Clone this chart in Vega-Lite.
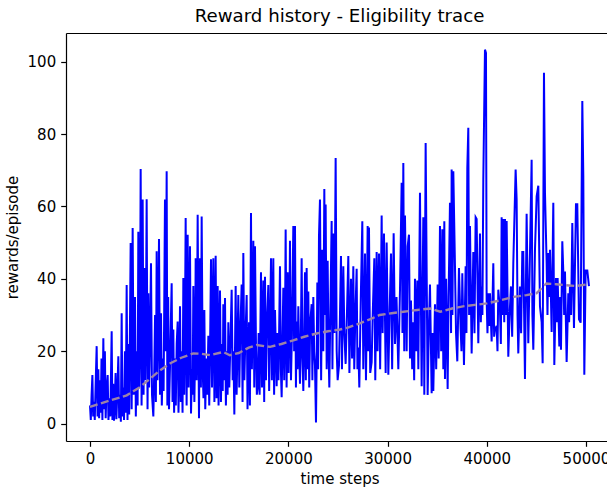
{
"$schema": "https://vega.github.io/schema/vega-lite/v6.json",
"width": 541,
"height": 408,
"autosize": {"type": "none"},
"padding": {"left": 66, "top": 33, "right": 0, "bottom": 48},
"background": "white",
"title": {"text": "Reward history - Eligibility trace", "font": "DejaVu Sans", "fontSize": 18.2, "fontWeight": "normal", "color": "#000000", "anchor": "middle", "frame": "group", "offset": 7, "dx": 3},
"config": {
  "view": {"stroke": null},
  "font": "DejaVu Sans",
  "axis": {"grid": false, "domainColor": "#000000", "domainWidth": 1.2, "tickColor": "#000000", "tickWidth": 1.2, "tickSize": 5.3, "labelColor": "#000000", "labelFont": "DejaVu Sans", "labelFontSize": 15, "labelPadding": 5, "titleColor": "#000000", "titleFont": "DejaVu Sans", "titleFontSize": 15, "titleFontWeight": "normal"}
},
"datasets": {
"raw": [
{"t":0,"r":5},{"t":80,"r":1},{"t":160,"r":8},{"t":240,"r":13.4},{"t":320,"r":2},{"t":400,"r":6},{"t":480,"r":1},{"t":560,"r":10},{"t":672,"r":21.4},{"t":760,"r":2},{"t":840,"r":15},{"t":920,"r":1.5},{"t":1000,"r":12},{"t":1080,"r":3},{"t":1160,"r":18},{"t":1250,"r":1},{"t":1344,"r":23.6},{"t":1420,"r":4},{"t":1500,"r":20},{"t":1580,"r":1.5},{"t":1660,"r":9},{"t":1781,"r":13.4},{"t":1860,"r":1},{"t":1950,"r":7},{"t":2050,"r":2},{"t":2184,"r":25.5},{"t":2260,"r":1},{"t":2340,"r":11},{"t":2420,"r":0.8},{"t":2500,"r":6},{"t":2580,"r":14},{"t":2660,"r":1.2},{"t":2760,"r":9},{"t":2856,"r":18.6},{"t":2940,"r":1.5},{"t":3020,"r":8},{"t":3110,"r":0.5},{"t":3192,"r":30.5},{"t":3270,"r":2},{"t":3350,"r":10},{"t":3430,"r":1},{"t":3520,"r":20},{"t":3600,"r":3},{"t":3696,"r":38.3},{"t":3780,"r":1},{"t":3860,"r":22},{"t":3950,"r":2.5},{"t":4099,"r":49.9},{"t":4200,"r":4},{"t":4300,"r":54},{"t":4400,"r":8},{"t":4536,"r":35},{"t":4620,"r":2},{"t":4720,"r":20},{"t":4800,"r":5},{"t":4872,"r":53},{"t":4950,"r":10},{"t":5040,"r":25},{"t":5107,"r":70.3},{"t":5200,"r":5},{"t":5309,"r":61.9},{"t":5400,"r":8},{"t":5477,"r":43},{"t":5560,"r":12},{"t":5640,"r":30},{"t":5712,"r":62},{"t":5800,"r":4},{"t":5880,"r":36},{"t":5960,"r":10},{"t":6060,"r":25},{"t":6149,"r":44.3},{"t":6250,"r":8},{"t":6384,"r":2},{"t":6480,"r":15},{"t":6560,"r":30},{"t":6640,"r":6},{"t":6720,"r":47.6},{"t":6800,"r":12},{"t":6880,"r":25},{"t":6955,"r":51},{"t":7060,"r":8},{"t":7157,"r":30.5},{"t":7240,"r":5},{"t":7330,"r":18},{"t":7420,"r":9},{"t":7560,"r":61.9},{"t":7640,"r":20},{"t":7728,"r":69.7},{"t":7800,"r":5},{"t":7880,"r":35},{"t":7963,"r":4},{"t":8060,"r":15},{"t":8150,"r":28},{"t":8232,"r":38.8},{"t":8320,"r":6},{"t":8400,"r":26},{"t":8480,"r":3},{"t":8560,"r":18},{"t":8650,"r":5},{"t":8740,"r":22},{"t":8838,"r":28.2},{"t":8920,"r":3},{"t":9000,"r":15},{"t":9073,"r":32.4},{"t":9160,"r":6},{"t":9250,"r":20},{"t":9330,"r":3},{"t":9409,"r":40.2},{"t":9500,"r":8},{"t":9580,"r":30},{"t":9644,"r":56.8},{"t":9740,"r":5},{"t":9846,"r":52.2},{"t":9940,"r":10},{"t":10000,"r":25},{"t":10081,"r":49},{"t":10182,"r":2.8},{"t":10280,"r":15},{"t":10350,"r":8},{"t":10417,"r":38},{"t":10520,"r":6},{"t":10600,"r":20},{"t":10652,"r":45.7},{"t":10750,"r":12},{"t":10854,"r":57.7},{"t":10940,"r":20},{"t":10988,"r":1.5},{"t":11089,"r":45.7},{"t":11180,"r":10},{"t":11257,"r":57.2},{"t":11360,"r":15},{"t":11440,"r":7},{"t":11526,"r":31.4},{"t":11620,"r":4},{"t":11720,"r":18},{"t":11820,"r":8},{"t":11929,"r":24.3},{"t":12020,"r":5},{"t":12100,"r":20},{"t":12198,"r":45.4},{"t":12300,"r":10},{"t":12433,"r":45.7},{"t":12540,"r":6},{"t":12600,"r":25},{"t":12668,"r":46.4},{"t":12760,"r":7},{"t":12870,"r":38},{"t":12960,"r":5},{"t":13020,"r":20},{"t":13105,"r":36.8},{"t":13200,"r":6},{"t":13300,"r":22},{"t":13380,"r":9},{"t":13441,"r":33},{"t":13520,"r":12},{"t":13609,"r":34.7},{"t":13700,"r":5},{"t":13800,"r":20},{"t":13870,"r":8},{"t":13945,"r":28},{"t":14040,"r":10},{"t":14150,"r":22},{"t":14281,"r":37},{"t":14380,"r":12},{"t":14460,"r":20},{"t":14550,"r":2.5},{"t":14684,"r":38},{"t":14780,"r":8},{"t":14860,"r":20},{"t":14953,"r":35.5},{"t":15050,"r":10},{"t":15150,"r":25},{"t":15289,"r":38.4},{"t":15380,"r":6},{"t":15457,"r":47.1},{"t":15560,"r":12},{"t":15650,"r":22},{"t":15793,"r":35.5},{"t":15880,"r":4},{"t":15950,"r":18},{"t":16028,"r":28},{"t":16120,"r":5},{"t":16230,"r":58.2},{"t":16320,"r":15},{"t":16400,"r":30},{"t":16465,"r":50.5},{"t":16560,"r":10},{"t":16633,"r":49},{"t":16740,"r":20},{"t":16820,"r":8},{"t":16902,"r":10},{"t":17000,"r":25},{"t":17100,"r":8},{"t":17238,"r":41.8},{"t":17340,"r":10},{"t":17400,"r":25},{"t":17473,"r":39.5},{"t":17560,"r":6},{"t":17641,"r":40.6},{"t":17740,"r":12},{"t":17840,"r":28},{"t":17977,"r":38.3},{"t":18060,"r":9},{"t":18150,"r":25},{"t":18246,"r":45.7},{"t":18340,"r":12},{"t":18400,"r":30},{"t":18481,"r":45.7},{"t":18560,"r":8},{"t":18649,"r":31.4},{"t":18740,"r":20},{"t":18817,"r":10.3},{"t":18900,"r":25},{"t":19000,"r":12},{"t":19153,"r":43.5},{"t":19240,"r":15},{"t":19321,"r":7.3},{"t":19400,"r":22},{"t":19489,"r":37.5},{"t":19580,"r":12},{"t":19660,"r":28},{"t":19724,"r":53.6},{"t":19820,"r":10},{"t":19926,"r":41.8},{"t":20020,"r":14},{"t":20100,"r":30},{"t":20161,"r":50.5},{"t":20260,"r":12},{"t":20360,"r":25},{"t":20497,"r":54.6},{"t":20580,"r":20},{"t":20665,"r":54.6},{"t":20760,"r":10},{"t":20833,"r":28.2},{"t":20920,"r":15},{"t":21001,"r":32.4},{"t":21090,"r":20},{"t":21169,"r":11},{"t":21260,"r":25},{"t":21337,"r":45.7},{"t":21420,"r":18},{"t":21505,"r":9},{"t":21600,"r":25},{"t":21673,"r":41.8},{"t":21760,"r":12},{"t":21841,"r":43},{"t":21930,"r":15},{"t":22009,"r":36.5},{"t":22100,"r":10},{"t":22200,"r":28},{"t":22345,"r":33},{"t":22420,"r":12},{"t":22513,"r":35},{"t":22600,"r":20},{"t":22681,"r":16},{"t":22781,"r":0.3},{"t":22860,"r":20},{"t":22916,"r":39},{"t":23000,"r":15},{"t":23085,"r":51.9},{"t":23185,"r":61.9},{"t":23300,"r":12},{"t":23420,"r":48},{"t":23520,"r":20},{"t":23622,"r":64.8},{"t":23700,"r":30},{"t":23756,"r":60.5},{"t":23860,"r":15},{"t":23958,"r":45},{"t":24050,"r":20},{"t":24126,"r":10},{"t":24250,"r":35},{"t":24361,"r":56},{"t":24440,"r":15},{"t":24529,"r":52.5},{"t":24640,"r":25},{"t":24764,"r":73.4},{"t":24870,"r":20},{"t":24966,"r":12},{"t":25100,"r":16},{"t":25200,"r":30},{"t":25302,"r":46.3},{"t":25400,"r":15},{"t":25537,"r":43.5},{"t":25640,"r":25},{"t":25772,"r":16.5},{"t":25900,"r":30},{"t":26041,"r":46.3},{"t":26150,"r":14},{"t":26310,"r":40},{"t":26420,"r":18},{"t":26545,"r":43.5},{"t":26640,"r":15},{"t":26750,"r":30},{"t":26882,"r":42.8},{"t":26960,"r":15},{"t":27050,"r":21},{"t":27150,"r":10},{"t":27300,"r":35},{"t":27453,"r":55.9},{"t":27550,"r":15},{"t":27640,"r":30},{"t":27722,"r":47},{"t":27820,"r":12},{"t":27900,"r":30},{"t":27991,"r":54.6},{"t":28060,"r":20},{"t":28125,"r":54.2},{"t":28250,"r":14},{"t":28394,"r":17},{"t":28500,"r":30},{"t":28663,"r":45.7},{"t":28760,"r":12},{"t":28898,"r":47.4},{"t":28990,"r":20},{"t":29133,"r":47},{"t":29250,"r":15},{"t":29402,"r":57.5},{"t":29500,"r":25},{"t":29637,"r":52.5},{"t":29805,"r":14},{"t":29906,"r":50},{"t":30074,"r":13.5},{"t":30200,"r":30},{"t":30343,"r":47},{"t":30460,"r":15},{"t":30612,"r":52.6},{"t":30746,"r":22},{"t":30900,"r":35},{"t":31082,"r":15},{"t":31250,"r":36.8},{"t":31418,"r":66.5},{"t":31500,"r":25},{"t":31586,"r":72},{"t":31680,"r":20},{"t":31754,"r":57.5},{"t":31922,"r":20},{"t":32023,"r":49},{"t":32157,"r":52.2},{"t":32260,"r":18},{"t":32359,"r":34},{"t":32480,"r":15},{"t":32594,"r":28},{"t":32680,"r":12},{"t":32762,"r":40},{"t":32880,"r":20},{"t":32997,"r":39.5},{"t":33100,"r":15},{"t":33266,"r":63.8},{"t":33434,"r":10.3},{"t":33602,"r":57},{"t":33703,"r":8},{"t":33837,"r":77.5},{"t":34039,"r":7.9},{"t":34150,"r":25},{"t":34274,"r":38.4},{"t":34442,"r":8.4},{"t":34530,"r":25},{"t":34610,"r":9},{"t":34778,"r":33},{"t":34900,"r":15},{"t":35047,"r":38.4},{"t":35150,"r":18},{"t":35282,"r":54.6},{"t":35400,"r":20},{"t":35517,"r":53.7},{"t":35620,"r":15},{"t":35719,"r":55.9},{"t":35786,"r":12.3},{"t":35900,"r":40},{"t":36055,"r":9.6},{"t":36150,"r":35},{"t":36290,"r":61},{"t":36400,"r":25},{"t":36458,"r":70.2},{"t":36540,"r":30},{"t":36626,"r":69.7},{"t":36794,"r":43.5},{"t":36900,"r":25},{"t":37029,"r":17.2},{"t":37197,"r":43},{"t":37365,"r":26},{"t":37450,"r":20},{"t":37533,"r":41.5},{"t":37701,"r":16.2},{"t":37869,"r":43.5},{"t":37950,"r":25},{"t":38037,"r":70.6},{"t":38138,"r":81.7},{"t":38220,"r":30},{"t":38306,"r":54.6},{"t":38474,"r":19.4},{"t":38642,"r":47.4},{"t":38760,"r":25},{"t":38877,"r":57},{"t":38978,"r":56.5},{"t":39146,"r":22.2},{"t":39314,"r":52.5},{"t":39400,"r":28},{"t":39482,"r":37.9},{"t":39560,"r":30},{"t":39650,"r":67.4},{"t":39818,"r":103.3},{"t":39919,"r":102.4},{"t":39986,"r":34.2},{"t":40070,"r":25},{"t":40154,"r":36},{"t":40240,"r":27},{"t":40322,"r":36},{"t":40490,"r":22.7},{"t":40658,"r":44.3},{"t":40740,"r":24},{"t":40826,"r":26},{"t":40994,"r":27},{"t":41080,"r":20},{"t":41162,"r":37},{"t":41330,"r":31.3},{"t":41420,"r":22},{"t":41498,"r":57},{"t":41580,"r":30},{"t":41666,"r":56.5},{"t":41760,"r":28},{"t":41834,"r":56.5},{"t":41920,"r":30},{"t":42002,"r":56},{"t":42170,"r":18.5},{"t":42300,"r":30},{"t":42439,"r":37.9},{"t":42560,"r":24},{"t":42674,"r":44.3},{"t":42909,"r":70.2},{"t":43010,"r":62},{"t":43100,"r":30},{"t":43178,"r":19.4},{"t":43346,"r":37.9},{"t":43460,"r":25},{"t":43581,"r":47.4},{"t":43682,"r":47.4},{"t":43850,"r":12.3},{"t":44018,"r":58},{"t":44186,"r":22.2},{"t":44354,"r":46.9},{"t":44522,"r":72.9},{"t":44600,"r":30},{"t":44691,"r":20.4},{"t":44859,"r":48},{"t":45027,"r":62.8},{"t":45195,"r":65.7},{"t":45363,"r":32.4},{"t":45531,"r":28},{"t":45632,"r":16.7},{"t":45766,"r":96.9},{"t":45867,"r":63.8},{"t":46035,"r":44.3},{"t":46120,"r":30},{"t":46203,"r":47.1},{"t":46290,"r":35},{"t":46371,"r":48},{"t":46539,"r":25.3},{"t":46707,"r":61},{"t":46808,"r":16.2},{"t":46976,"r":40.2},{"t":47060,"r":28},{"t":47144,"r":40.2},{"t":47312,"r":21.3},{"t":47400,"r":35},{"t":47480,"r":20.4},{"t":47614,"r":50.4},{"t":47715,"r":42},{"t":47800,"r":30},{"t":47883,"r":42},{"t":48051,"r":17},{"t":48219,"r":36},{"t":48300,"r":28},{"t":48387,"r":37.9},{"t":48500,"r":30},{"t":48622,"r":55.4},{"t":48790,"r":26.4},{"t":48992,"r":60.6},{"t":49126,"r":60.6},{"t":49295,"r":28.8},{"t":49463,"r":27.9},{"t":49631,"r":89.1},{"t":49731,"r":68.5},{"t":49832,"r":13.5},{"t":49966,"r":42.3},{"t":50134,"r":42.3},{"t":50302,"r":38}
],
"avg": [
{"t":0,"r":4.6},{"t":1000,"r":5.5},{"t":2016,"r":6.4},{"t":3000,"r":7.2},{"t":3700,"r":7.8},{"t":4400,"r":9},{"t":5040,"r":10.1},{"t":6050,"r":12.4},{"t":7000,"r":14.6},{"t":8060,"r":16.6},{"t":9200,"r":18.2},{"t":10400,"r":19.4},{"t":11200,"r":19.3},{"t":12100,"r":18.9},{"t":13440,"r":19.8},{"t":14100,"r":18.9},{"t":15000,"r":19.5},{"t":16000,"r":21},{"t":16800,"r":21.7},{"t":18150,"r":21.2},{"t":19300,"r":22},{"t":20500,"r":23},{"t":21600,"r":24},{"t":22850,"r":24.9},{"t":24000,"r":25.5},{"t":25200,"r":26},{"t":26000,"r":26.5},{"t":27200,"r":27.7},{"t":28200,"r":28.8},{"t":29200,"r":30},{"t":30400,"r":30.5},{"t":31600,"r":30.9},{"t":33000,"r":31.4},{"t":34300,"r":31.8},{"t":35300,"r":30.9},{"t":36500,"r":31.8},{"t":37600,"r":32.4},{"t":38800,"r":32.8},{"t":40000,"r":33.2},{"t":41300,"r":34},{"t":42700,"r":35},{"t":44000,"r":35.5},{"t":45000,"r":36},{"t":46000,"r":38.7},{"t":47000,"r":38.5},{"t":47700,"r":38.3},{"t":49000,"r":38},{"t":50200,"r":38.5}
]
},
"layer": [
{
  "data": {"name": "raw"},
  "mark": {"type": "line", "color": "#0000ff", "strokeWidth": 2, "clip": true},
  "encoding": {
    "x": {"field": "t", "type": "quantitative", "scale": {"domain": [-2420, 52120], "nice": false, "zero": false},
          "axis": {"orient": "bottom", "values": [0, 10000, 20000, 30000, 40000, 50000], "format": "d", "title": "time steps", "titlePadding": 5, "titleX": 273.5}},
    "y": {"field": "r", "type": "quantitative", "scale": {"domain": [-4.8, 107.9], "nice": false, "zero": false},
          "axis": {"orient": "left", "values": [0, 20, 40, 60, 80, 100], "title": "rewards/episode", "titlePadding": 7}}
  }
},
{
  "data": {"name": "avg"},
  "mark": {"type": "line", "color": "#9d83a6", "strokeWidth": 2.4, "strokeDash": [8, 3.5], "clip": true},
  "encoding": {
    "x": {"field": "t", "type": "quantitative",
          "axis": {"orient": "top", "labels": false, "ticks": false, "title": null, "domain": true}},
    "y": {"field": "r", "type": "quantitative", "axis": {"orient": "left", "values": [0, 20, 40, 60, 80, 100], "title": "rewards/episode", "titlePadding": 7}}
  }
}
],
"resolve": {"axis": {"x": "independent"}}
}
